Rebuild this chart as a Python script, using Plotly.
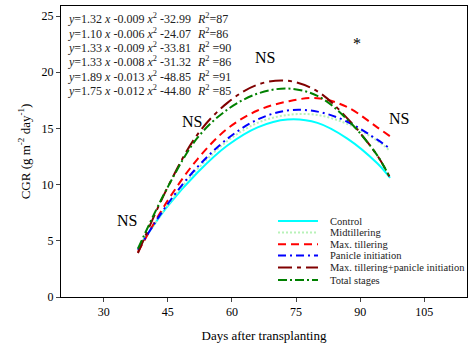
import plotly.graph_objects as go

days = [38, 45, 52, 59, 66, 73, 80, 87, 94, 97]
control = [4.3, 8.1, 11.1, 13.5, 15.1, 15.8, 15.5, 14.1, 11.9, 10.6]
midtillering = [4.2, 8.2, 11.4, 13.9, 15.5, 16.2, 16.2, 15.4, 13.9, 13.0]
max_tillering = [4.0, 8.6, 12.3, 15.0, 16.6, 17.4, 17.7, 16.9, 15.1, 14.3]
panicle_init = [4.2, 8.3, 11.6, 14.1, 15.8, 16.6, 16.5, 15.6, 14.0, 13.2]
max_till_pi = [3.9, 9.8, 14.5, 17.3, 18.9, 19.25, 18.3, 15.9, 12.6, 10.6]
total_stages = [4.3, 9.8, 14.2, 16.7, 18.1, 18.55, 17.9, 15.8, 12.6, 10.6]

series_names = ["Control", "Midtillering", "Max. tillering", "Panicle initiation",
                "Max. tillering+panicle initiation", "Total stages"]
series_vals = [control, midtillering, max_tillering, panicle_init, max_till_pi, total_stages]
colors = ["#00FFFF", "#B8F2B8", "#FF0000", "#0000FF", "#800000", "#008000"]
dashes = ["solid", "2px,2px", "8px,5px", "8px,4px,2px,4px", "14px,5px,4px,5px", "9px,3px,2px,3px"]

equations = [
    ("1.32", "-0.009", "-32.99", "=87"),
    ("1.10", "-0.006", "-24.07", "=86"),
    ("1.33", "-0.009", "-33.81", " =90"),
    ("1.33", "-0.008", "-31.32", " =86"),
    ("1.89", "-0.013", "-48.85", " =91"),
    ("1.75", "-0.012", "-44.80", " =85"),
]

ns_x = [35.5, 50.7, 67.7, 99.1]
ns_y = [6.8, 15.6, 21.3, 15.9]
star_x, star_y = 89.3, 22.6

font_family = "Liberation Serif, Times New Roman, serif"

fig = go.Figure()
for name, vals, c, d in zip(series_names, series_vals, colors, dashes):
    fig.add_trace(go.Scatter(
        x=days, y=vals, mode="lines", name=name, showlegend=False,
        line=dict(color=c, width=2, dash=d, shape="spline", smoothing=1.0),
    ))

# equations
for i, (a, b, c, r) in enumerate(equations):
    yy = 1.0 - i * 0.049 - 0.012
    fig.add_annotation(
        xref="paper", yref="paper", x=0.012, y=yy,
        xanchor="left", yanchor="top", showarrow=False,
        text=f"<i>y</i>={a} <i>x</i> {b} <i>x</i><sup>2</sup> {c}",
        font=dict(family=font_family, size=12, color="#222"),
    )
    fig.add_annotation(
        xref="paper", yref="paper", x=0.33, y=yy,
        xanchor="left", yanchor="top", showarrow=False,
        text=f"<i>R</i><sup>2</sup>{r}",
        font=dict(family=font_family, size=12, color="#222"),
    )

for nx, ny in zip(ns_x, ns_y):
    fig.add_annotation(x=nx, y=ny, text="NS", showarrow=False,
                       font=dict(family=font_family, size=16, color="black"))
fig.add_annotation(x=star_x, y=star_y, text="*", showarrow=False,
                   font=dict(family=font_family, size=16, color="black"))

# manual legend (compact rows)
leg_y = [0.261, 0.222, 0.181, 0.143, 0.101, 0.058]
for name, c, d, ly in zip(series_names, colors, dashes, leg_y):
    fig.add_shape(type="line", xref="paper", yref="paper",
                  x0=0.5345, x1=0.633, y0=ly, y1=ly,
                  line=dict(color=c, width=2, dash=d))
    fig.add_annotation(xref="paper", yref="paper", x=0.657, y=ly,
                       xanchor="left", yanchor="middle", showarrow=False,
                       text=name, font=dict(family=font_family, size=10.5, color="#222"))

fig.update_layout(
    width=472, height=353,
    margin=dict(l=61, r=5, t=6, b=56),
    paper_bgcolor="white", plot_bgcolor="white",
    font=dict(family=font_family, size=12, color="black"),
    showlegend=False,
    xaxis=dict(range=[20, 115], tickvals=[30, 45, 60, 75, 90, 105],
               ticks="outside", ticklen=4, showgrid=False, zeroline=False,
               showline=True, linecolor="black", linewidth=1, mirror=True,
               tickfont=dict(family=font_family, size=12),
               title=dict(text="Days after transplanting", font=dict(family=font_family, size=13), standoff=12)),
    yaxis=dict(range=[0, 25.9], tickvals=[0, 5, 10, 15, 20, 25],
               ticks="outside", ticklen=4, showgrid=False, zeroline=False,
               showline=True, linecolor="black", linewidth=1, mirror=True,
               tickfont=dict(family=font_family, size=12),
               title=dict(text="CGR (g m<sup>-2</sup> day<sup>-1</sup>)", font=dict(family=font_family, size=13), standoff=8)),
)

fig.write_html("out.html")
